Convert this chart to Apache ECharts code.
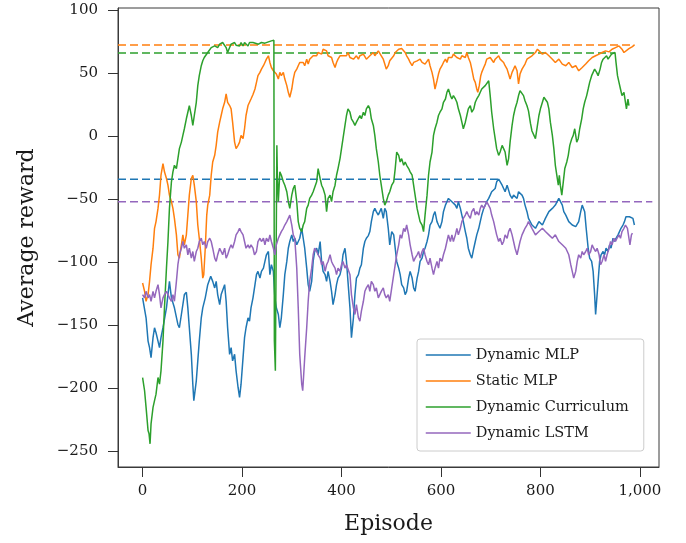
<!DOCTYPE html>
<html><head><meta charset="utf-8">
<script src="https://cdn.jsdelivr.net/npm/echarts@6/dist/echarts.min.js"></script>
<style>html,body{margin:0;padding:0;background:#fff}#c{width:686px;height:543px}</style>
</head><body><div id="c"></div>
<script>
const seriesNames = ['Dynamic MLP', 'Static MLP', 'Dynamic Curriculum', 'Dynamic LSTM'];
const seriesColors = ['#1f77b4', '#ff7f0e', '#2ca02c', '#9467bd'];
const xTicks = [0, 200, 400, 600, 800, 1000];
const yTicks = [-250, -200, -150, -100, -50, 0, 50, 100];

// [episode, average reward]
const dynamicMLP = [[0,-128.4],[7,-144.2],[11,-162.7],[14,-167.9],[17,-175.8],[21,-160],[24,-152.1],[27,-156.1],[31,-162.7],[34,-167.9],[37,-160],[41,-152.1],[48,-136.3],[54,-115.3],[58,-128.4],[64,-136.3],[71,-149.5],[74,-152.1],[78,-141.6],[84,-125.8],[88,-124],[91,-136.3],[94,-152.1],[98,-173.2],[101,-196.9],[103,-210],[108,-194.2],[111,-178.4],[114,-162.7],[118,-144.2],[121,-136.3],[126,-128.4],[131,-117.9],[137,-111.3],[141,-115.3],[145,-120.5],[148,-115.3],[151,-125.8],[155,-133.7],[158,-125.8],[165,-117.9],[168,-131.1],[171,-152.1],[175,-173.2],[178,-167.9],[181,-178.4],[185,-173.2],[188,-186.3],[192,-199.5],[195,-207.4],[198,-196.9],[202,-175.8],[205,-160],[208,-152.1],[212,-144.2],[215,-146.9],[218,-136.3],[222,-128.4],[226,-117.9],[229,-110],[232,-107.4],[236,-112.7],[239,-107.4],[243,-104.8],[246,-99.5],[249,-94.2],[253,-91.6],[256,-110],[259,-102.1],[263,-107.4],[266,-128.4],[269,-136.3],[273,-141.6],[276,-152.1],[279,-144.2],[283,-125.8],[286,-110],[290,-99.5],[293,-89],[296,-83.7],[300,-78.4],[303,-83.7],[306,-81.1],[310,-86.3],[313,-83.7],[316,-81.1],[320,-73.2],[323,-81.1],[326,-89],[330,-104.8],[333,-117.9],[336,-123.2],[340,-115.3],[343,-99.5],[346,-91.6],[350,-89],[353,-94.2],[357,-83.7],[360,-99.5],[363,-107.4],[367,-110],[370,-115.3],[373,-107.4],[377,-115.3],[380,-123.2],[383,-133.7],[387,-125.8],[390,-117.9],[393,-112.7],[397,-110],[400,-104.8],[403,-94.2],[407,-89],[410,-99.5],[413,-115.3],[417,-136.3],[420,-160],[424,-144.2],[427,-125.8],[430,-112.7],[434,-110],[437,-104.8],[440,-102.1],[444,-89],[447,-83.7],[450,-81.1],[454,-79],[457,-75.8],[460,-67.9],[464,-60],[467,-57.4],[470,-60],[474,-62.7],[477,-60],[480,-57.4],[484,-65.3],[487,-57.4],[490,-60],[494,-73.2],[497,-86.3],[501,-75.8],[505,-78.4],[508,-89],[511,-99.5],[515,-104.8],[518,-110],[521,-117.9],[525,-120.5],[528,-125.8],[531,-123.2],[535,-112.7],[538,-107.4],[542,-112.7],[545,-120.5],[548,-123.2],[552,-112.7],[555,-107.4],[558,-99.5],[562,-96.9],[565,-91.6],[568,-89],[572,-83.7],[575,-78.4],[578,-70.6],[582,-67.9],[585,-62.7],[588,-60],[592,-67.9],[595,-70.6],[598,-73.2],[602,-67.9],[605,-60],[609,-54.8],[612,-52.1],[615,-49.5],[619,-48.2],[622,-52.1],[625,-50.8],[629,-54.8],[632,-57.4],[635,-52.1],[639,-57.4],[642,-62.7],[645,-67.9],[649,-75.8],[652,-81.1],[655,-89],[659,-94.2],[662,-96.9],[666,-89],[669,-83.7],[672,-78.4],[676,-73.2],[679,-67.9],[682,-62.7],[686,-57.4],[689,-54.8],[692,-52.1],[696,-49.5],[699,-46.9],[702,-44.2],[706,-42.9],[709,-41.6],[712,-36.3],[716,-34.2],[719,-35],[723,-39],[726,-41.6],[729,-44.2],[733,-39],[736,-42.9],[739,-46.9],[743,-49.5],[746,-46.9],[749,-48.2],[753,-49.5],[756,-44.2],[759,-42.9],[763,-46.9],[766,-49.5],[769,-54.8],[773,-60],[776,-65.3],[783,-70.6],[790,-73.2],[797,-67.9],[804,-70.6],[810,-65.3],[817,-60],[824,-57.4],[830,-54.8],[837,-49.5],[840,-48.2],[844,-54.8],[847,-60],[851,-62.7],[854,-65.3],[857,-67.9],[864,-70.6],[871,-71.9],[874,-70.6],[877,-67.9],[881,-60],[884,-54.8],[886,-54.2],[889,-60],[892,-73.2],[896,-89],[899,-96.9],[903,-99.5],[906,-107.4],[909,-125.8],[911,-141.6],[913,-131.1],[916,-115.3],[919,-99.5],[922,-94.2],[926,-91.6],[929,-94.2],[932,-89],[936,-91.6],[939,-86.3],[942,-89],[946,-81.1],[949,-83.7],[952,-81.1],[956,-78.4],[959,-75.8],[962,-73.2],[966,-70.6],[969,-67.9],[972,-64],[976,-62.7],[979,-64],[983,-65.3],[986,-65.3],[989,-70.6]];

const staticMLP = [[0,-116.6],[4,-123.2],[7,-131.1],[11,-125.8],[14,-115.3],[17,-102.1],[21,-89],[24,-73.2],[27,-67.9],[31,-57.4],[34,-46.9],[37,-31.1],[41,-21.9],[44,-28.4],[48,-33.7],[51,-39],[54,-46.9],[58,-52.1],[61,-57.4],[64,-65.3],[68,-78.4],[71,-94.2],[74,-96.9],[78,-86.3],[81,-78.4],[84,-86.3],[88,-78.4],[91,-62.7],[94,-46.9],[98,-33.7],[101,-31.1],[104,-39],[108,-52.1],[111,-70.6],[114,-81.1],[118,-96.9],[121,-112.7],[123,-110],[126,-89],[129,-62.7],[131,-54.8],[135,-46.9],[138,-31.1],[141,-20.6],[145,-15.3],[148,-7.4],[151,3.1],[155,11],[158,16.3],[161,21.6],[165,26.8],[168,33.4],[171,26.8],[175,24.2],[178,21.6],[181,11],[185,-4.8],[188,-10],[192,-7.4],[195,-4.8],[198,0.5],[202,-2.1],[205,5.8],[208,16.3],[212,24.2],[215,26.8],[218,29.4],[222,33],[226,37.3],[229,42.6],[232,47.9],[236,50.5],[239,53.1],[243,55.8],[246,58.4],[249,61],[253,63.7],[256,58.4],[259,54.4],[263,51.8],[266,53.1],[269,49.2],[273,45.2],[276,50.5],[279,47.9],[283,50.5],[286,45.2],[290,40],[293,34.7],[296,30.8],[300,37.3],[303,45.2],[306,50.5],[310,53.1],[313,55.8],[316,58.4],[320,59.7],[323,58.4],[326,55.8],[330,61],[333,57.1],[336,61],[340,62.3],[343,63.7],[346,65],[350,63.7],[353,66.3],[357,67.6],[360,65],[363,68.9],[367,69.7],[370,67.6],[373,63.7],[377,65],[380,62.3],[383,58.4],[387,54.4],[390,58.4],[393,61],[397,63.7],[400,62.3],[403,63.7],[407,65],[410,63.7],[413,66.3],[417,62.3],[420,63.7],[424,61],[427,62.3],[430,63.7],[434,61],[437,63.7],[440,62.3],[444,65],[447,63.7],[450,61],[454,62.3],[457,63.7],[460,65],[464,66.3],[467,63.7],[470,65],[474,67.6],[477,66.3],[480,63.7],[484,61],[487,57.1],[490,53.1],[494,55.8],[497,59.7],[501,60],[505,63.7],[508,66.3],[511,67.6],[515,68.9],[518,70.2],[521,69.4],[525,68.9],[528,66.3],[531,63.7],[535,61],[538,58.4],[542,55.8],[545,58.4],[548,57.1],[552,59.7],[555,58.4],[558,61],[562,58.4],[565,59.7],[568,57.1],[572,58.4],[575,61],[578,55.8],[582,50.5],[585,45.2],[588,37.3],[592,43.9],[595,49.2],[598,53.1],[602,55.8],[605,58.4],[609,61],[612,58.4],[615,62.3],[619,63.7],[622,62.3],[625,65],[629,63.7],[632,62.3],[635,63.7],[639,61],[642,63.7],[645,65],[649,62.3],[652,66.3],[655,62.3],[659,58.4],[662,53.1],[666,45.2],[669,42.6],[672,37.3],[674,34.7],[677,40],[680,47.9],[682,50.5],[686,54.4],[689,57.1],[692,61],[696,59.7],[699,62.3],[702,61],[706,58.4],[709,61],[712,62.3],[716,63.7],[719,61],[723,62.3],[726,58.4],[729,55.8],[733,53.1],[736,49.2],[739,45.2],[743,50.5],[746,53.1],[749,55.8],[753,51.8],[756,41.3],[759,49.2],[763,53.1],[766,54.4],[769,57.1],[773,61],[776,62.3],[783,63.7],[790,66.3],[794,68.9],[797,67.6],[804,65],[810,66.3],[817,63.7],[824,61],[830,58.4],[837,61],[844,57.1],[851,55.8],[857,58.4],[864,54.4],[871,55.8],[877,51.8],[881,50.5],[884,54.4],[891,57.1],[897,59.7],[904,62.3],[911,63.7],[918,65],[924,66.3],[931,67.6],[938,66.8],[944,68.9],[951,70.2],[958,71.5],[964,68.9],[968,66.3],[971,67.6],[978,69.4],[985,71],[989,72.3]];

const dynamicCurriculum = [[0,-191.6],[4,-202.1],[7,-215.3],[11,-233.7],[13,-236.3],[15,-244.2],[17,-228.4],[21,-215.3],[24,-210],[27,-204.8],[31,-191.6],[34,-196.9],[37,-186.3],[41,-162.7],[44,-136.3],[48,-104.8],[51,-83.7],[54,-57.4],[58,-36.3],[61,-28.4],[64,-23.2],[68,-25.8],[71,-17.9],[74,-10],[78,-4.8],[81,0.5],[84,5.8],[88,13.7],[91,18.9],[94,24.2],[98,16.3],[101,8.4],[104,16.3],[108,26.8],[111,40],[114,47.9],[118,55.8],[121,59.7],[124,62.3],[128,63.7],[131,66.3],[135,67.6],[138,70.2],[141,68.9],[145,71.5],[148,72.9],[151,70.2],[155,72.9],[158,71.5],[161,74.2],[165,72.9],[168,70.2],[171,66.3],[175,70.2],[178,72.9],[181,71.5],[185,74.2],[188,72.1],[192,72.9],[195,71.5],[198,74.2],[202,71.5],[205,74.2],[208,72.9],[212,71.5],[215,74.2],[218,72.9],[222,74.2],[225,74.7],[233,72.9],[239,74.2],[246,73.7],[253,74.7],[259,75.5],[264,76],[265,-162.7],[267,-186.3],[270,-7.4],[271,-31.1],[273,-52.1],[276,-28.4],[279,-31.1],[283,-36.3],[286,-39],[290,-44.2],[293,-52.1],[296,-57.4],[300,-46.9],[303,-41.6],[306,-39],[310,-52.1],[313,-67.9],[316,-73.2],[320,-75.8],[323,-70.6],[326,-67.9],[330,-57.4],[333,-54.8],[336,-49.5],[340,-46.9],[343,-44.2],[346,-42.9],[350,-36.3],[353,-25.8],[357,-33.7],[360,-39],[363,-41.6],[367,-46.9],[370,-60],[373,-49.5],[377,-46.9],[380,-52.1],[383,-44.2],[387,-39],[390,-31.1],[393,-25.8],[397,-17.9],[400,-10],[403,-2.1],[407,8.4],[410,16.3],[413,21.6],[417,18.9],[420,13.7],[424,11],[427,8.4],[430,11],[434,10],[437,16.3],[440,13.7],[444,18.9],[447,16.3],[450,21.6],[454,24.2],[457,21.6],[460,13.7],[464,8.4],[467,0.5],[470,-10],[474,-20.6],[477,-31.1],[480,-39],[484,-49.5],[487,-54.8],[490,-52.1],[494,-46.9],[497,-44.2],[501,-39],[505,-36.3],[508,-25.8],[511,-12.7],[515,-15.3],[518,-20.6],[521,-17.9],[525,-23.2],[528,-20.6],[531,-23.2],[535,-25.8],[538,-28.4],[542,-31.1],[545,-39],[548,-46.9],[552,-57.4],[555,-62.7],[558,-67.9],[562,-70.6],[565,-75.8],[568,-62.7],[572,-46.9],[575,-31.1],[578,-20.6],[582,-12.7],[585,0.5],[588,5.8],[592,11],[595,16.3],[598,18.9],[602,21.6],[605,26.8],[609,29.4],[612,34.7],[615,37.3],[619,32.1],[622,29.4],[625,32.1],[629,29.4],[632,26.8],[635,21.6],[639,16.3],[642,11],[645,5.8],[649,11],[652,16.3],[655,21.6],[659,24.2],[662,18.9],[666,21.6],[669,26.8],[672,29.4],[676,32.1],[679,34.7],[682,37.3],[686,38.7],[689,40],[692,41.3],[696,43.9],[699,32.1],[702,18.9],[706,5.8],[709,-2.1],[712,-10],[716,-15.3],[719,-12.7],[723,-7.4],[726,-10],[729,-12.7],[733,-23.2],[736,-17.9],[739,-4.8],[743,8.4],[746,16.3],[749,21.6],[753,26.8],[756,32.1],[759,36],[763,34.7],[766,32.1],[769,28],[773,24],[776,20],[780,10],[783,4],[787,0.5],[790,-2.1],[794,8.4],[797,16.3],[800,21.6],[804,26.8],[807,30.8],[810,32.1],[814,26.8],[817,21.6],[820,11],[824,0.5],[827,-10],[830,-23.2],[834,-33.7],[836,-39],[838,-31.1],[840,-39],[843,-46.9],[846,-36.3],[849,-25.8],[853,-20.6],[856,-15.3],[859,-7.4],[863,-2.1],[866,0.5],[869,5.8],[873,-4.8],[876,-2.1],[879,5.8],[883,13.7],[886,21.6],[889,26.8],[893,32.1],[896,37.3],[899,42.6],[903,47.9],[906,50.5],[909,53.1],[913,50.5],[916,47.9],[920,53.1],[923,58.4],[926,61],[930,62.3],[933,63.7],[936,61],[940,62.3],[943,65],[946,63.7],[950,66.3],[952,58.4],[955,47.9],[958,42.6],[961,37.3],[964,32.1],[968,34.7],[971,26.8],[973,21.6],[976,29.4],[978,24.2]];

const dynamicLSTM = [[0,-125.8],[4,-128.4],[7,-123.2],[11,-128.4],[14,-125.8],[17,-131.1],[21,-123.2],[24,-128.4],[27,-123.2],[31,-117.9],[34,-125.8],[37,-136.3],[41,-128.4],[44,-125.8],[48,-123.2],[51,-125.8],[54,-128.4],[58,-131.1],[61,-125.8],[64,-131.1],[68,-115.3],[71,-102.1],[74,-94.2],[78,-89],[81,-83.7],[84,-89],[88,-86.3],[91,-94.2],[94,-89],[98,-96.9],[101,-91.6],[104,-99.5],[108,-91.6],[111,-89],[114,-83.7],[118,-81.1],[121,-86.3],[124,-83.7],[128,-89],[131,-83.7],[135,-81.1],[138,-83.7],[141,-89],[145,-96.9],[148,-99.5],[151,-94.2],[155,-89],[158,-91.6],[161,-94.2],[165,-89],[168,-96.9],[171,-94.2],[175,-89],[178,-86.3],[181,-89],[185,-83.7],[188,-78.4],[192,-75.8],[195,-73.2],[198,-75.8],[202,-78.4],[205,-83.7],[208,-89],[212,-86.3],[215,-89],[218,-86.3],[222,-89],[225,-94.2],[229,-91.6],[232,-83.7],[236,-81.1],[239,-83.7],[243,-81.1],[246,-86.3],[249,-81.1],[253,-83.7],[256,-78.4],[259,-83.7],[263,-89],[266,-94.2],[269,-86.3],[273,-81.1],[276,-78.4],[279,-75.8],[283,-73.2],[286,-70.6],[290,-67.9],[293,-65.3],[296,-62.7],[300,-70.6],[303,-78.4],[306,-81.1],[310,-104.8],[313,-136.3],[316,-173.2],[320,-196.9],[322,-202.1],[324,-189],[326,-175.8],[330,-152.1],[333,-131.1],[336,-115.3],[340,-104.8],[343,-94.2],[346,-89],[350,-91.6],[353,-94.2],[357,-96.9],[360,-102.1],[363,-99.5],[367,-107.4],[370,-102.1],[373,-99.5],[377,-94.2],[380,-99.5],[383,-102.1],[387,-104.8],[390,-110],[393,-104.8],[397,-107.4],[400,-102.1],[403,-99.5],[407,-104.8],[410,-102.1],[413,-101],[417,-110],[420,-125.8],[424,-136.3],[427,-141.6],[430,-133.7],[434,-144.2],[437,-146.9],[440,-139],[444,-131.1],[447,-123.2],[450,-120.5],[454,-117.9],[457,-123.2],[460,-115.3],[464,-117.9],[467,-123.2],[470,-120.5],[474,-128.4],[477,-125.8],[480,-123.2],[484,-120.5],[487,-125.8],[490,-128.4],[494,-125.8],[497,-131.1],[501,-120.5],[505,-110],[508,-102.1],[511,-94.2],[515,-86.3],[518,-78.4],[521,-81.1],[525,-73.2],[528,-75.8],[531,-70.6],[535,-78.4],[538,-86.3],[542,-94.2],[545,-99.5],[548,-96.9],[552,-94.2],[555,-91.6],[558,-96.9],[562,-91.6],[565,-89],[568,-94.2],[572,-99.5],[575,-102.1],[578,-96.9],[582,-104.8],[585,-110],[588,-104.8],[592,-99.5],[595,-104.8],[598,-96.9],[602,-99.5],[605,-94.2],[609,-89],[612,-83.7],[615,-78.4],[619,-83.7],[622,-78.4],[625,-83.7],[629,-78.4],[632,-73.2],[635,-78.4],[639,-73.2],[642,-67.9],[645,-65.3],[649,-62.7],[652,-60],[655,-62.7],[659,-65.3],[662,-60],[666,-57.4],[669,-62.7],[672,-60],[676,-62.7],[679,-57.4],[682,-54.8],[686,-57.4],[689,-54.8],[692,-52.1],[696,-53.4],[699,-57.4],[702,-62.7],[706,-67.9],[709,-73.2],[712,-78.4],[716,-83.7],[719,-81.1],[723,-86.3],[726,-83.7],[729,-78.4],[733,-81.1],[736,-75.8],[739,-73.2],[743,-78.4],[746,-83.7],[749,-89],[753,-94.2],[756,-89],[759,-83.7],[763,-78.4],[766,-75.8],[769,-73.2],[773,-70.6],[776,-67.9],[783,-73.2],[790,-78.4],[797,-75.8],[804,-73.2],[810,-75.8],[817,-78.4],[824,-81.1],[830,-78.4],[837,-83.7],[844,-86.3],[851,-89],[857,-94.2],[861,-102.1],[864,-107.4],[867,-112.7],[871,-107.4],[874,-99.5],[877,-94.2],[881,-96.9],[884,-91.6],[887,-94.2],[891,-91.6],[894,-89],[897,-94.2],[901,-91.6],[904,-86.3],[907,-89],[911,-91.6],[914,-89],[918,-94.2],[921,-102.1],[924,-99.5],[928,-94.2],[931,-99.5],[934,-94.2],[938,-89],[941,-83.7],[944,-86.3],[948,-81.1],[951,-83.7],[954,-81.1],[958,-78.4],[961,-81.1],[964,-75.8],[968,-73.2],[971,-70.6],[975,-73.2],[978,-81.1],[980,-86.3],[983,-78.4],[985,-77.1]];

// dashed reference levels (best reward) and the episode where each dashed line stops
const refLevels = [-34.2, 72.3, 65.8, -52.1];
const refEnds = [716, 989, 950, 1025];

const xMin = -49.45, xMax = 1038.45;
const yMin = -262.6, yMax = 101.6;

const allData = [dynamicMLP, staticMLP, dynamicCurriculum, dynamicLSTM];
const font = 'DejaVu Serif';
const ink = '#1a1a1a';

const series = [];
refLevels.forEach((lv, i) => {
  series.push({
    name: seriesNames[i] + ' best', type: 'line', symbol: 'none', silent: true,
    data: [[xMin, lv], [refEnds[i], lv]],
    lineStyle: { color: seriesColors[i], width: 1.5, type: [8, 4] },
    z: 1
  });
});
allData.forEach((d, i) => {
  series.push({
    name: seriesNames[i], type: 'line', symbol: 'none', showSymbol: false,
    data: d, lineStyle: { color: seriesColors[i], width: 1.5 },
    itemStyle: { color: seriesColors[i] }, z: 2
  });
});

const chart = echarts.init(document.getElementById('c'), null, { renderer: 'canvas', width: 686, height: 543 });
chart.setOption({
  animation: false,
  backgroundColor: '#fff',
  grid: { left: 118, right: 27, top: 8, bottom: 76, show: true, borderColor: '#3a3a3a', borderWidth: 1 },
  legend: {
    data: seriesNames, orient: 'vertical', left: 417, top: 339,
    padding: [8, 15, 10, 8], itemGap: 10, itemWidth: 45, itemHeight: 14,
    itemStyle: { opacity: 0 },
    lineStyle: { width: 1.5 },
    borderColor: '#cccccc', borderWidth: 1, borderRadius: 3, backgroundColor: 'rgba(255,255,255,0.85)',
    textStyle: { fontFamily: font, fontSize: 14.5, color: ink, lineHeight: 16 }
  },
  xAxis: {
    type: 'value', min: xMin, max: xMax,
    splitLine: { show: false },
    axisLine: { onZero: false, lineStyle: { color: '#3a3a3a', width: 1 } },
    axisTick: { show: true, length: 10, customValues: xTicks, lineStyle: { color: '#333', width: 1 } },
    axisLabel: { customValues: xTicks, margin: 17, fontFamily: font, fontSize: 15, color: ink,
      formatter: v => Number(v).toLocaleString('en-US') },
    name: 'Episode', nameLocation: 'middle', nameGap: 46,
    nameTextStyle: { fontFamily: font, fontSize: 22, color: ink }
  },
  yAxis: {
    type: 'value', min: yMin, max: yMax,
    splitLine: { show: false },
    axisLine: { onZero: false, lineStyle: { color: '#3a3a3a', width: 1 } },
    axisTick: { show: true, length: 10, customValues: yTicks, lineStyle: { color: '#333', width: 1 } },
    axisLabel: { customValues: yTicks, margin: 20, fontFamily: font, fontSize: 15, color: ink,
      formatter: v => (v < 0 ? '\u2212' + Math.abs(v) : String(v)) },
    name: 'Average reward', nameLocation: 'middle', nameGap: 80, nameRotate: 90,
    nameTextStyle: { fontFamily: font, fontSize: 22, color: ink }
  },
  series: series
});
</script>
</body></html>
